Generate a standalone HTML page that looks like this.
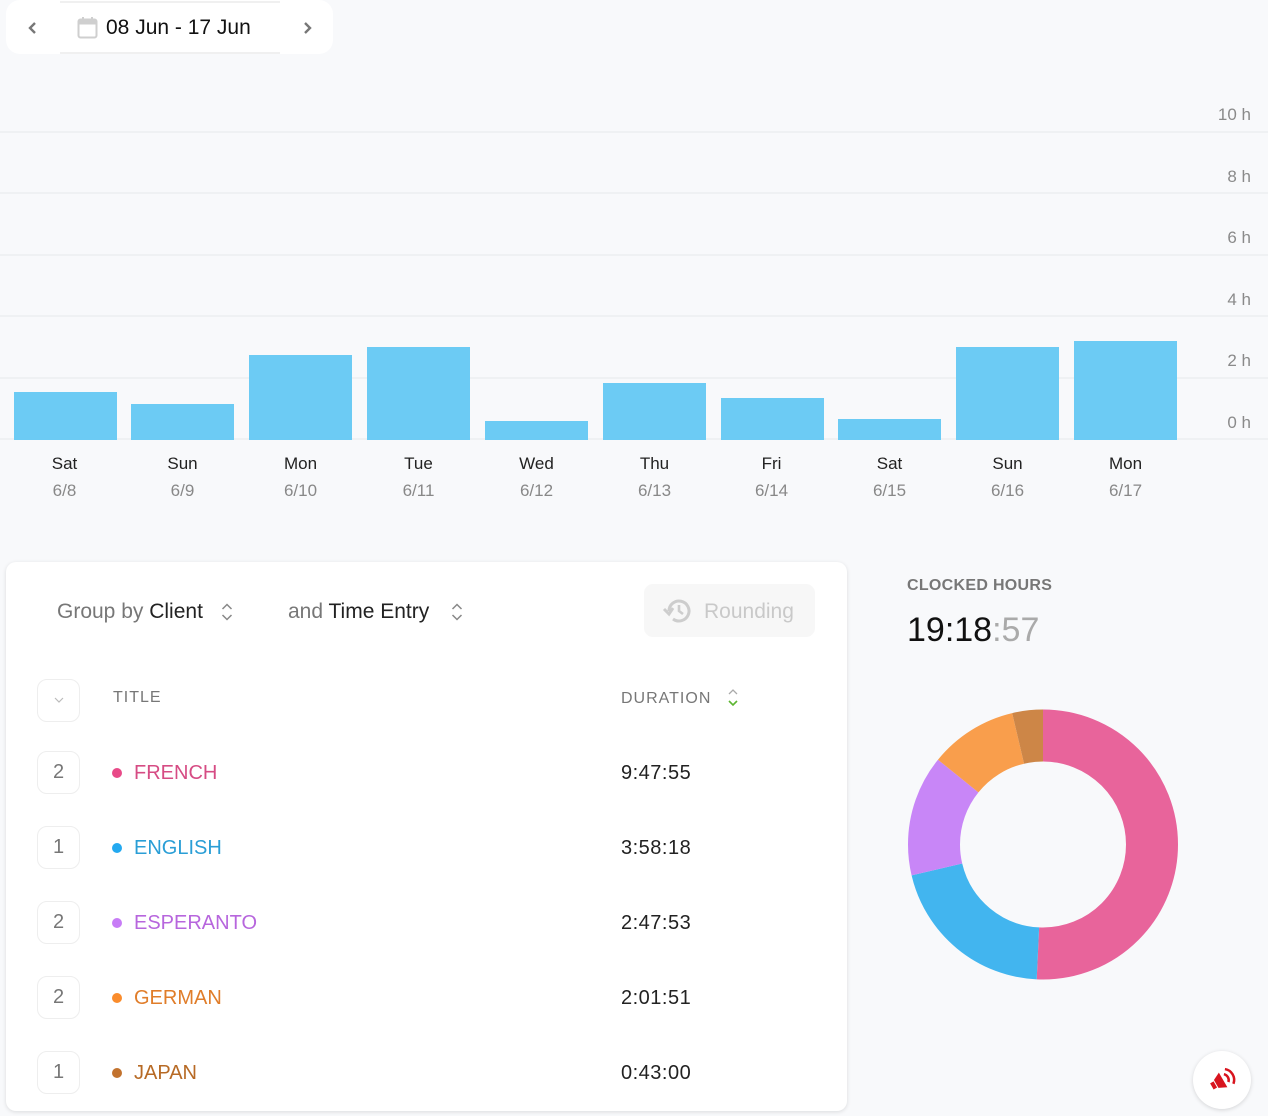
<!DOCTYPE html>
<html><head><meta charset="utf-8">
<style>
*{box-sizing:border-box;margin:0;padding:0}
html,body{width:1268px;height:1116px;overflow:hidden;background:#f8f9fb;font-family:"Liberation Sans",Arial,sans-serif}
.a{position:absolute;white-space:nowrap}
.grid{position:absolute;left:0;width:1268px;height:2px;background:#eff1f3}
.yl{position:absolute;right:17px;font-size:17px;color:#8a8a8a;line-height:20px}
.bar{position:absolute;background:#6ccbf4;width:103px}
.day{position:absolute;width:103px;text-align:center;font-size:17px;line-height:20px}
.box{position:absolute;left:37px;width:43px;height:43px;border:1.5px solid #eeeeee;border-radius:10px;text-align:center;font-size:20px;color:#777;line-height:41px}
.dot{position:absolute;left:112px;width:10px;height:10px;border-radius:50%}
.nm{position:absolute;left:134px;font-size:20px;line-height:24px}
.du{position:absolute;left:621px;font-size:20px;line-height:24px;color:#222;letter-spacing:0.5px}
</style></head><body>

<!-- header date picker -->
<div class="a" style="left:6px;top:0;width:327px;height:54px;background:#fff;border-radius:14px"></div>
<div class="a" style="left:60px;top:1px;width:220px;height:53px;border-top:2px solid #f0f0f0;border-bottom:2px solid #f0f0f0;background:#fff"></div>
<svg class="a" style="left:26px;top:20px" width="14" height="16" viewBox="0 0 14 16"><path d="M9 3 L4 8 L9 13" fill="none" stroke="#777" stroke-width="2.4"/></svg>
<svg class="a" style="left:300px;top:20px" width="14" height="16" viewBox="0 0 14 16"><path d="M5 3 L10 8 L5 13" fill="none" stroke="#777" stroke-width="2.4"/></svg>
<svg class="a" style="left:77px;top:16px" width="22" height="24" viewBox="0 0 22 24"><rect x="1.5" y="3.5" width="18" height="18" rx="2" fill="none" stroke="#cfcfcf" stroke-width="2"/><rect x="1.5" y="3.5" width="18" height="5" fill="#cfcfcf"/><rect x="5" y="1" width="2" height="4" fill="#cfcfcf"/><rect x="14" y="1" width="2" height="4" fill="#cfcfcf"/></svg>
<div class="a" style="left:106px;top:16px;font-size:21px;line-height:24px;color:#111">08 Jun - 17 Jun</div>

<!-- grid -->
<div class="grid" style="top:131px"></div>
<div class="grid" style="top:192px"></div>
<div class="grid" style="top:254px"></div>
<div class="grid" style="top:315px"></div>
<div class="grid" style="top:377px"></div>
<div class="grid" style="top:438px"></div>
<div class="yl" style="top:105px">10 h</div>
<div class="yl" style="top:167px">8 h</div>
<div class="yl" style="top:228px">6 h</div>
<div class="yl" style="top:290px">4 h</div>
<div class="yl" style="top:351px">2 h</div>
<div class="yl" style="top:413px">0 h</div>

<!-- bars -->
<div class="bar" style="left:14px;top:392px;height:48px"></div>
<div class="bar" style="left:131px;top:404px;height:36px"></div>
<div class="bar" style="left:249px;top:355px;height:85px"></div>
<div class="bar" style="left:367px;top:347px;height:93px"></div>
<div class="bar" style="left:485px;top:421px;height:19px"></div>
<div class="bar" style="left:603px;top:383px;height:57px"></div>
<div class="bar" style="left:721px;top:398px;height:42px"></div>
<div class="bar" style="left:838px;top:419px;height:21px"></div>
<div class="bar" style="left:956px;top:347px;height:93px"></div>
<div class="bar" style="left:1074px;top:341px;height:99px"></div>

<div class="day" style="left:13px;top:454px;color:#222">Sat</div><div class="day" style="left:13px;top:481px;color:#888">6/8</div>
<div class="day" style="left:131px;top:454px;color:#222">Sun</div><div class="day" style="left:131px;top:481px;color:#888">6/9</div>
<div class="day" style="left:249px;top:454px;color:#222">Mon</div><div class="day" style="left:249px;top:481px;color:#888">6/10</div>
<div class="day" style="left:367px;top:454px;color:#222">Tue</div><div class="day" style="left:367px;top:481px;color:#888">6/11</div>
<div class="day" style="left:485px;top:454px;color:#222">Wed</div><div class="day" style="left:485px;top:481px;color:#888">6/12</div>
<div class="day" style="left:603px;top:454px;color:#222">Thu</div><div class="day" style="left:603px;top:481px;color:#888">6/13</div>
<div class="day" style="left:720px;top:454px;color:#222">Fri</div><div class="day" style="left:720px;top:481px;color:#888">6/14</div>
<div class="day" style="left:838px;top:454px;color:#222">Sat</div><div class="day" style="left:838px;top:481px;color:#888">6/15</div>
<div class="day" style="left:956px;top:454px;color:#222">Sun</div><div class="day" style="left:956px;top:481px;color:#888">6/16</div>
<div class="day" style="left:1074px;top:454px;color:#222">Mon</div><div class="day" style="left:1074px;top:481px;color:#888">6/17</div>

<!-- card -->
<div class="a" style="left:6px;top:562px;width:841px;height:549px;background:#fff;border-radius:10px;box-shadow:0 1px 4px rgba(0,0,0,0.12)"></div>

<div class="a" style="left:57px;top:599px;font-size:21px;line-height:26px;color:#777">Group by <span style="color:#222">Client</span></div>
<svg class="a" style="left:220px;top:601px" width="14" height="22" viewBox="0 0 14 22"><path d="M2.5 8 L7 3.5 L11.5 8 M2.5 14 L7 18.5 L11.5 14" fill="none" stroke="#888" stroke-width="1.5"/></svg>
<div class="a" style="left:288px;top:599px;font-size:21px;line-height:26px;color:#777">and <span style="color:#222">Time Entry</span></div>
<svg class="a" style="left:450px;top:601px" width="14" height="22" viewBox="0 0 14 22"><path d="M2.5 8 L7 3.5 L11.5 8 M2.5 14 L7 18.5 L11.5 14" fill="none" stroke="#888" stroke-width="1.5"/></svg>

<div class="a" style="left:644px;top:584px;width:171px;height:53px;background:#f7f7f7;border-radius:9px"></div>
<svg class="a" style="left:661px;top:596px" width="32" height="30" viewBox="0 0 32 30"><path d="M8 15 A10 10 0 1 1 12 23" fill="none" stroke="#cdcdcd" stroke-width="3"/><path d="M3 13 L8 18 L12 12" fill="none" stroke="#cdcdcd" stroke-width="3"/><path d="M18 9 L18 15 L22 18" fill="none" stroke="#cdcdcd" stroke-width="2.6"/></svg>
<div class="a" style="left:704px;top:599px;font-size:21px;line-height:26px;color:#c9c9c9">Rounding</div>

<!-- header row -->
<div class="box" style="top:679px"></div>
<svg class="a" style="left:53px;top:695px" width="12" height="10" viewBox="0 0 12 10"><path d="M2 3 L6 7 L10 3" fill="none" stroke="#bbb" stroke-width="1.2"/></svg>
<div class="a" style="left:113px;top:688px;font-size:16px;line-height:20px;color:#777;letter-spacing:1px">TITLE</div>
<div class="a" style="left:621px;top:689px;font-size:16px;line-height:20px;color:#777;letter-spacing:1px">DURATION</div>
<svg class="a" style="left:726px;top:687px" width="14" height="22" viewBox="0 0 14 22"><path d="M3 7 L7 3 L11 7" fill="none" stroke="#aaa" stroke-width="1.3"/><path d="M3 14 L7 18 L11 14" fill="none" stroke="#5cb531" stroke-width="1.6"/></svg>

<!-- rows -->
<div class="box" style="top:751px">2</div>
<div class="dot" style="top:768px;background:#e84a88"></div>
<div class="nm" style="top:761px;color:#d64c84">FRENCH</div>
<div class="du" style="top:761px">9:47:55</div>

<div class="box" style="top:826px">1</div>
<div class="dot" style="top:843px;background:#23a9f0"></div>
<div class="nm" style="top:836px;color:#2a9ed6">ENGLISH</div>
<div class="du" style="top:836px">3:58:18</div>

<div class="box" style="top:901px">2</div>
<div class="dot" style="top:918px;background:#c77cf6"></div>
<div class="nm" style="top:911px;color:#b766dd">ESPERANTO</div>
<div class="du" style="top:911px">2:47:53</div>

<div class="box" style="top:976px">2</div>
<div class="dot" style="top:993px;background:#fa8c2c"></div>
<div class="nm" style="top:986px;color:#e07d2a">GERMAN</div>
<div class="du" style="top:986px">2:01:51</div>

<div class="box" style="top:1051px">1</div>
<div class="dot" style="top:1068px;background:#c2722e"></div>
<div class="nm" style="top:1061px;color:#b76a25">JAPAN</div>
<div class="du" style="top:1061px">0:43:00</div>

<!-- clocked hours -->
<div class="a" style="left:907px;top:576px;font-size:16px;line-height:20px;color:#777;font-weight:bold;letter-spacing:0.3px">CLOCKED HOURS</div>
<div class="a" style="left:907px;top:610px;font-size:34px;line-height:40px;color:#111">19:18<span style="color:#aaa">:57</span></div>

<svg class="a" style="left:0;top:0" width="1268" height="1116">
  <g transform="rotate(-90 1043 844.5)" fill="none" stroke-width="52">
    <circle cx="1043" cy="844.5" r="109" stroke="#e8649b" stroke-dasharray="347.42 684.87" stroke-dashoffset="0"/>
    <circle cx="1043" cy="844.5" r="109" stroke="#42b5ef" stroke-dasharray="140.82 684.87" stroke-dashoffset="-347.42"/>
    <circle cx="1043" cy="844.5" r="109" stroke="#c886f7" stroke-dasharray="99.21 684.87" stroke-dashoffset="-488.24"/>
    <circle cx="1043" cy="844.5" r="109" stroke="#f99e4c" stroke-dasharray="72.01 684.87" stroke-dashoffset="-587.45"/>
    <circle cx="1043" cy="844.5" r="109" stroke="#cd8647" stroke-dasharray="25.41 684.87" stroke-dashoffset="-659.46"/>
  </g>
</svg>

<!-- floating button -->
<div class="a" style="left:1193px;top:1051px;width:58px;height:58px;border-radius:50%;background:#fff;box-shadow:0 1px 4px rgba(0,0,0,0.15)"></div>
<svg class="a" style="left:1204px;top:1062px" width="36" height="36" viewBox="0 0 36 36">
  <g transform="rotate(-30 18 18)">
    <rect x="6" y="15" width="4" height="7" fill="#d8141e"/>
    <path d="M11 14 L19 10 L19 27 L11 23 Z" fill="#d8141e"/>
    <path d="M22.5 14 A6 6 0 0 1 22.5 23" fill="none" stroke="#d8141e" stroke-width="2.5"/>
    <path d="M26 10 A11 11 0 0 1 26 27" fill="none" stroke="#d8141e" stroke-width="2.5"/>
  </g>
</svg>
</body></html>
